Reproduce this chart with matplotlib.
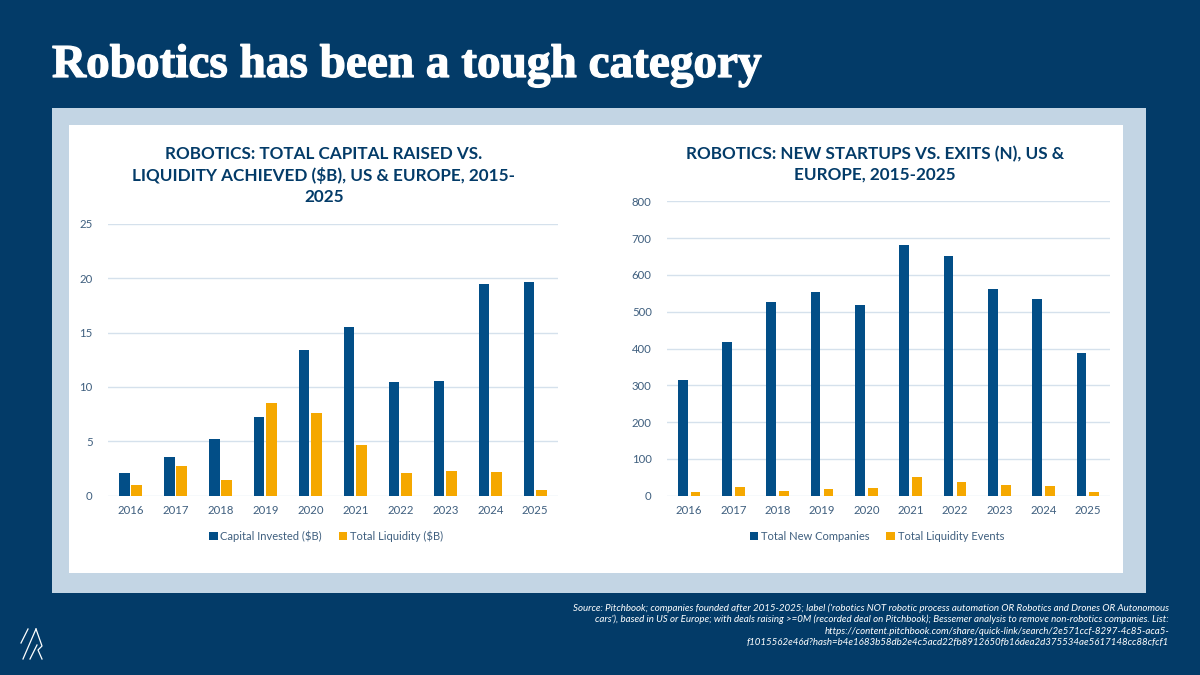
import numpy as np
import matplotlib
matplotlib.use('Agg')
import matplotlib.pyplot as plt
import matplotlib.patheffects as pe
from matplotlib.patches import Rectangle

years = ['2016','2017','2018','2019','2020','2021','2022','2023','2024','2025']
capital_invested = [2.1,3.6,5.25,7.2,13.4,15.5,10.45,10.55,19.45,19.6]
total_liquidity = [1.0,2.75,1.4,8.5,7.6,4.65,2.1,2.25,2.2,0.5]
new_companies = [315,419,527,554,519,681,650,563,535,388]
liquidity_events = [9,25,13,17,21,51,37,29,27,9]

left_title = 'ROBOTICS: TOTAL CAPITAL RAISED VS.\nLIQUIDITY ACHIEVED (\\$B), US & EUROPE, 2015-\n2025'
right_title = 'ROBOTICS: NEW STARTUPS VS. EXITS (N), US &\nEUROPE, 2015-2025'
source_lines = [
    "Source: Pitchbook; companies founded after 2015-2025; label ('robotics NOT robotic process automation OR Robotics and Drones OR Autonomous",
    "cars'), based in US or Europe; with deals raising >=0M (recorded deal on Pitchbook); Bessemer analysis to remove non-robotics companies. List:",
    "https://content.pitchbook.com/share/quick-link/search/2e571ccf-8297-4c85-aca5-",
    "f1015562e46d?hash=b4e1683b58db2e4c5acd22fb8912650fb16dea2d375534ae5617148cc88cfcf1",
]

W, H = 1200, 675
NAVY = '#033b68'
BLUE = '#024e87'
ORANGE = '#f5a800'
PANEL = '#c3d5e4'
GRID = '#d5e1ec'
TICK = '#3f5f7f'

plt.rcParams['font.family'] = ['Lato', 'DejaVu Sans']

fig = plt.figure(figsize=(W/100, H/100), dpi=100, facecolor=NAVY)

def px_axes(x0, y0, x1, y1):
    # pixel box, y measured from the top
    return fig.add_axes([x0/W, 1-y1/H, (x1-x0)/W, (y1-y0)/H])

fig.patches.append(Rectangle((52/W, 1-593/H), 1094/W, 485/H, transform=fig.transFigure, fc=PANEL, ec='none', zorder=-2))
fig.patches.append(Rectangle((69/W, 1-573/H), 1054/W, 448/H, transform=fig.transFigure, fc='white', ec='none', zorder=-1))

title = fig.text(52/W, 1-77/H, 'Robotics has been a tough category', family='Liberation Serif',
                 weight='bold', size=34, color='white', va='baseline', ha='left')
title.set_path_effects([pe.withStroke(linewidth=0.9, foreground='white')])

def bar_chart(box, a, b, ymax, step, width, offset, names, title, title_x, title_y, legend_x):
    ax = px_axes(*box)
    ax.patch.set_alpha(0)
    x = np.arange(len(years))
    ax.bar(x-offset, a, width, color=BLUE, label=names[0], zorder=3)
    ax.bar(x+offset, b, width, color=ORANGE, label=names[1], zorder=3)
    ax.set_xlim(-0.5, len(years)-0.5)
    ax.set_ylim(0, ymax)
    ax.set_xticks(x, years)
    ax.set_yticks(np.arange(0, ymax+step, step))
    ax.tick_params(length=0, labelsize=8.2, labelcolor=TICK)
    ax.tick_params(axis='x', pad=7)
    ax.tick_params(axis='y', pad=11)
    ax.grid(axis='y', color=GRID, lw=1, zorder=0)
    ax.set_axisbelow(True)
    for s in ax.spines.values():
        s.set_visible(False)
    fig.text(title_x/W, 1-title_y/H, title, ha='center', va='top', weight='bold',
             size=12.3, color=NAVY, linespacing=1.36)
    fig.legend(*ax.get_legend_handles_labels(), loc='center', bbox_to_anchor=(legend_x/W, 1-536/H),
               ncol=2, frameon=False, fontsize=8, labelcolor=TICK, handlelength=0.75,
               handleheight=0.75, handletextpad=0.25, columnspacing=1.5)
    return ax

bar_chart((108, 223.7, 557.7, 495.7), capital_invested, total_liquidity, 25, 5, 0.24, 0.14,
          ['Capital Invested (\\$B)', 'Total Liquidity (\\$B)'], left_title, 324, 146, 326)
bar_chart((667, 201.3, 1110, 495.7), new_companies, liquidity_events, 800, 100, 0.22, 0.145,
          ['Total New Companies', 'Total Liquidity Events'], right_title, 875, 146, 877)

y = 603
for line in source_lines:
    fig.text(1169/W, 1-y/H, line, ha='right', va='top', style='italic', size=7, color='white')
    y += 11.8

# logo strokes
for xs, ys in [([21, 28], [643, 629]), ([23, 36], [659, 629]), ([30, 37], [659, 645]),
               ([36, 42, 38, 42], [629, 646, 650, 659])]:
    fig.add_artist(plt.Line2D(np.array(xs)/W, 1-np.array(ys)/H, color='white', lw=0.9))

fig.savefig('out.png', dpi=100, facecolor=NAVY)
